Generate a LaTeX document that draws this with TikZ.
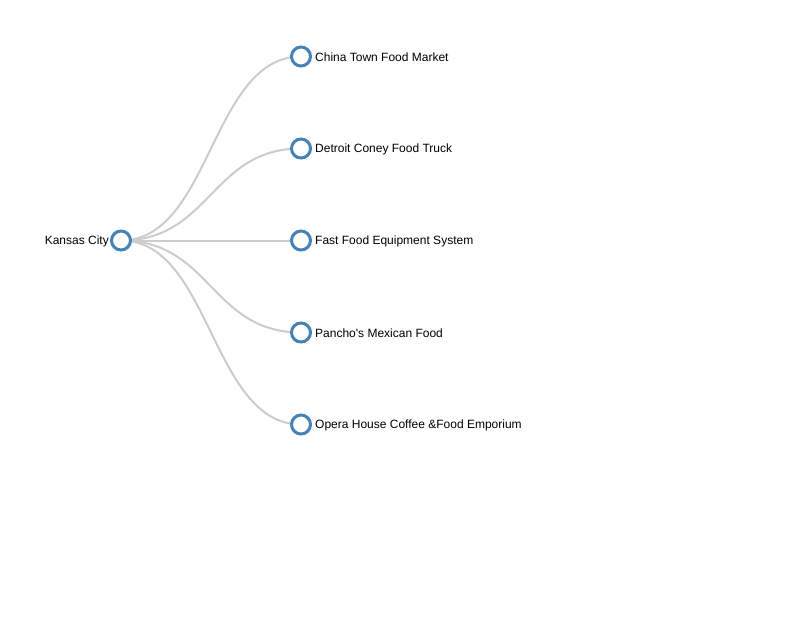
\documentclass[tikz,border=0pt]{standalone}
\usepackage{fontspec}
\setmainfont{Liberation Sans}[Ligatures=TeXOff]
\definecolor{steel}{HTML}{4682B4}
\definecolor{linkgray}{HTML}{CCCCCC}
\tikzset{
  treenode/.style={circle,draw=steel,line width=3bp,fill=white,minimum size=19bp,inner sep=0pt},
  treelink/.style={draw=linkgray,line width=2bp},
  lbl/.style={font=\fontsize{12bp}{14bp}\selectfont,inner sep=0pt,text=black}
}
\begin{document}
\begin{tikzpicture}[x=1bp,y=-1bp]
\useasboundingbox (0,0) rectangle (801,643);
\coordinate (rootc) at (121,240.5);
\foreach \n/\yy in {a/56.5,b/148.5,c/240.5,d/332.5,e/424.5}{
  \coordinate (\n c) at (301,\yy);
  \draw[treelink] (rootc) .. controls (211,240.5) and (211,\yy) .. (\n c);
}
\node[treenode] (root) at (rootc) {};
\node[lbl,anchor=east] (rootl) at (109,241) {Kansas City};
\node[treenode] (a) at (ac) {};
\node[treenode] (b) at (bc) {};
\node[treenode] (c) at (cc) {};
\node[treenode] (d) at (dc) {};
\node[treenode] (e) at (ec) {};
\node[lbl,anchor=west] (al) at (315,57) {China Town Food Market};
\node[lbl,anchor=west] (bl) at (315,149) {Detroit Coney Food Truck};
\node[lbl,anchor=west] (cl) at (315,241) {Fast Food Equipment System};
\node[lbl,anchor=west] (dl) at (315,333) {Pancho's Mexican Food};
\node[lbl,anchor=west] (el) at (315,425) {Opera House Coffee \&Food Emporium};
\end{tikzpicture}
\end{document}
